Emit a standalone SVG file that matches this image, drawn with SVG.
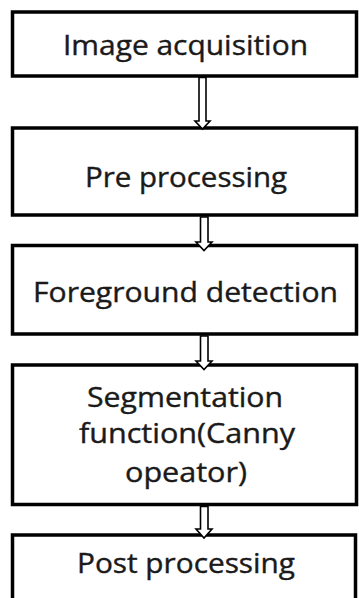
<svg xmlns="http://www.w3.org/2000/svg" width="359" height="598" viewBox="0 0 359 598">
<style>
.box{fill:#fff;stroke:#000;stroke-width:3.5}
.lbl{font-family:"Open Sans","Noto Sans","Liberation Sans",sans-serif;font-size:28px;fill:#1a1a1a;stroke:#1a1a1a;stroke-width:0.4;text-anchor:middle}
.arr{fill:#fff;stroke:#000;stroke-width:1.6;stroke-linejoin:miter}
</style>
<rect width="359" height="598" fill="#fff"/>
<g id="n1"><rect class="box" x="12.5" y="12" width="344" height="64"/><text class="lbl" x="185.5" y="55" textLength="245" lengthAdjust="spacingAndGlyphs">Image acquisition</text></g>
<g id="n2"><rect class="box" x="12.5" y="128" width="344" height="87"/><text class="lbl" x="186" y="187" textLength="202" lengthAdjust="spacingAndGlyphs">Pre processing</text></g>
<g id="n3"><rect class="box" x="12.5" y="245.5" width="344" height="88.5"/><text class="lbl" x="185.5" y="302" textLength="305" lengthAdjust="spacingAndGlyphs">Foreground detection</text></g>
<g id="n4"><rect class="box" x="12.5" y="365" width="344" height="139.5"/><text class="lbl" x="185" y="407" textLength="196" lengthAdjust="spacingAndGlyphs">Segmentation</text><text class="lbl" x="187" y="443" textLength="216" lengthAdjust="spacingAndGlyphs">function(Canny</text><text class="lbl" x="186" y="482" textLength="122" lengthAdjust="spacingAndGlyphs">opeator)</text></g>
<g id="n5"><rect class="box" x="12.5" y="535" width="343" height="80"/><text class="lbl" x="186" y="573" textLength="218" lengthAdjust="spacingAndGlyphs">Post processing</text></g>
<g id="connectors">
<path class="arr" d="M199 77.5V121H195L202.5 129L210 121H206V77.5Z"/>
<path class="arr" d="M200.5 217V242H196L204 250.5L212 242H208V217Z"/>
<path class="arr" d="M200.5 336V361H196L204 369.5L212 361H208V336Z"/>
<path class="arr" d="M200.5 506.5V529H196L204 538L212 529H208V506.5Z"/>
</g>
</svg>
